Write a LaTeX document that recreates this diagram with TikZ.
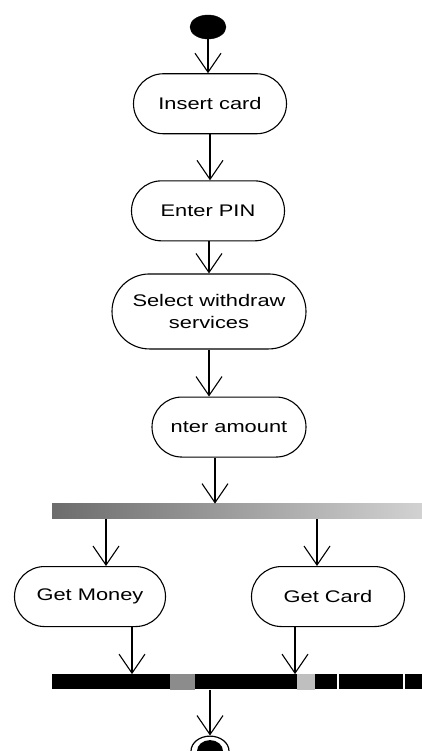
\documentclass[tikz,border=0pt]{standalone}
\usepackage{fontspec}
\usepackage{tikz}
\usetikzlibrary{positioning, arrows.meta, shapes.geometric, shapes.misc}
\newfontfamily\actfont[FakeStretch=1.3]{Liberation Sans}
\definecolor{barlight}{HTML}{D2D2D2}
\definecolor{bardark}{HTML}{6C6C6C}

\begin{document}
\begin{tikzpicture}[x=1pt, y=-1pt,
  act/.style={draw, line width=1.1pt, rounded rectangle, minimum width=157pt, minimum height=60pt, inner sep=2pt, align=center, font={\actfont\fontsize{16.8}{22}\selectfont}},
  bar/.style={rectangle, inner sep=0pt, minimum width=370pt, minimum height=15pt},
  flow/.style={line width=1.1pt, -{Straight Barb[length=19pt, width=26pt, line width=1.1pt]}}]
\clip (0,0) rectangle (422,751);
\node[draw, fill=black, ellipse, minimum width=36pt, minimum height=24pt, inner sep=0pt] (start) at (208,27) {};
\node[act, below=34pt of start, xshift=2pt] (insert) {Insert card};
\node[act, below=46pt of insert, xshift=-2pt] (pin) {Enter PIN};
\node[act, below=32pt of pin, xshift=1pt, minimum width=198pt, minimum height=75pt] (select) {Select withdraw\\services};
\node[act, below=47pt of select, xshift=20pt, minimum width=158pt] (amount) {nter amount};
\node[bar, below=46pt of amount, xshift=8pt, left color=bardark, right color=barlight] (fork) {};
\node[act, below=47pt of fork, xshift=-147pt, minimum width=155pt] (money) {Get Money};
\node[act, below=47pt of fork, xshift=91pt] (card) {Get Card};
\node[bar, fill=black, below=47pt of money, xshift=147pt] (join) {};
\fill[black!45] ([xshift=118pt]join.north west) rectangle ([xshift=143pt]join.south west);
\fill[black!25] ([xshift=245pt]join.north west) rectangle ([xshift=263pt]join.south west);
\fill[white] ([xshift=285pt]join.north west) rectangle ([xshift=287pt]join.south west);
\fill[white] ([xshift=351pt]join.north west) rectangle ([xshift=353pt]join.south west);
\node[draw, ellipse, line width=1.2pt, minimum width=38pt, minimum height=30pt, inner sep=0pt, below=46pt of join, xshift=-27pt,
  path picture={\fill (path picture bounding box.center) ellipse (13pt and 11pt);}] (end) {};

\draw[flow] (start.south) -- (start.south |- insert.north);
\draw[flow] (insert.south) -- (insert.south |- pin.north);
\draw[flow] (select.north |- pin.south) -- (select.north);
\draw[flow] (select.south) -- (select.south |- amount.north);
\draw[flow] ([xshift=-14pt]amount.south) -- ([xshift=-14pt]amount.south |- fork.north);
\draw[flow] ([xshift=16pt]money.north |- fork.south) -- ([xshift=16pt]money.north);
\draw[flow] ([xshift=-11pt]card.north |- fork.south) -- ([xshift=-11pt]card.north);
\draw[flow] ([xshift=42pt]money.south) -- ([xshift=42pt]money.south |- join.north);
\draw[flow] ([xshift=-33pt]card.south) -- ([xshift=-33pt]card.south |- join.north);
\draw[flow] (end.north |- join.south) -- (end.north);
\end{tikzpicture}
\end{document}
